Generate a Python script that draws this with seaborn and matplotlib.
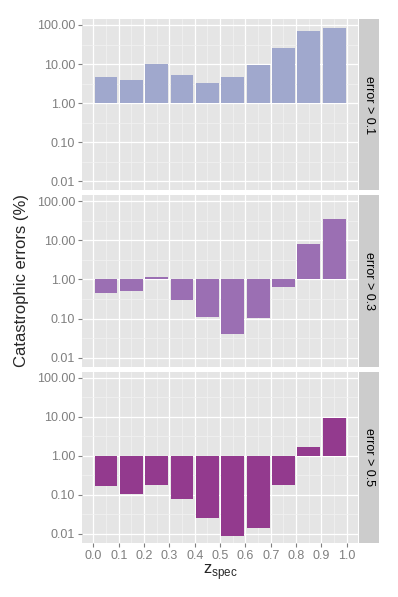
import matplotlib
matplotlib.use("Agg")
import matplotlib.pyplot as plt
from matplotlib.patches import Rectangle
from matplotlib.ticker import FixedLocator, NullFormatter
import seaborn as sns
import pandas as pd
import numpy as np

# bin centres of z_spec and % of catastrophic errors per bin
z_bins = [0.05, 0.15, 0.25, 0.35, 0.45, 0.55, 0.65, 0.75, 0.85, 0.95]
err_01 = [4.8, 4.0, 10.3, 5.1, 3.2, 4.6, 9.5, 25.0, 69.0, 85.0]
err_03 = [0.44, 0.50, 1.15, 0.29, 0.11, 0.041, 0.104, 0.66, 7.9, 34.5]
err_05 = [0.17, 0.108, 0.18, 0.079, 0.025, 0.0087, 0.0142, 0.18, 1.73, 9.3]
panels = ["error > 0.1", "error > 0.3", "error > 0.5"]
colors = ["#A0A8CD", "#9B6FB3", "#933A8E"]
y_ticks = [0.01, 0.1, 1, 10, 100]
x_ticks = [0.0, 0.1, 0.2, 0.3, 0.4, 0.5, 0.6, 0.7, 0.8, 0.9, 1.0]

df = pd.DataFrame({
    "z": z_bins * 3,
    "pct": err_01 + err_03 + err_05,
    "cut": np.repeat(panels, len(z_bins)),
})

sns.set_theme(style="darkgrid", rc={
    "axes.facecolor": "#E5E5E5",
    "grid.color": "white",
    "xtick.bottom": True,
    "ytick.left": True,
    "xtick.major.size": 3,
    "ytick.major.size": 3,
    "xtick.major.width": 0.8,
    "ytick.major.width": 0.8,
    "xtick.color": "#7F7F7F",
    "ytick.color": "#7F7F7F",
    "xtick.major.pad": 2,
    "ytick.major.pad": 2,
})
plt.rcParams["font.family"] = ["Liberation Sans", "DejaVu Sans"]


def bars_from_one(data, color=None, label=None, **kws):
    ax = plt.gca()
    ax.bar(data["z"], data["pct"] - 1, bottom=1, width=0.09,
           color=color, linewidth=0)


g = sns.FacetGrid(df, row="cut", row_order=panels, hue="cut",
                  hue_order=panels, palette=colors, sharex=True,
                  sharey=True, despine=False, height=2, aspect=1.5)
g.map_dataframe(bars_from_one)
g.set_titles("")
g.set_axis_labels("", "")
g.figure.set_size_inches(3.98, 5.97)
g.figure.subplots_adjust(left=0.206, right=0.9, top=0.968, bottom=0.0905,
                         hspace=0.03)

strip_w = 19.5 / 276
for i, (ax, name) in enumerate(zip(g.axes.flat, panels)):
    ax.set_yscale("log")
    ax.set_ylim(10 ** -2.23, 10 ** 2.15)
    ax.set_xlim(-0.045, 1.045)
    ax.yaxis.set_major_locator(FixedLocator(y_ticks))
    ax.set_yticklabels(["%.2f" % v for v in y_ticks], fontsize=9)
    ax.yaxis.set_minor_locator(FixedLocator([10 ** -1.5, 10 ** -0.5, 10 ** 0.5, 10 ** 1.5]))
    ax.yaxis.set_minor_formatter(NullFormatter())
    ax.xaxis.set_major_locator(FixedLocator(x_ticks))
    ax.xaxis.set_minor_locator(FixedLocator(z_bins))
    ax.tick_params(which="minor", length=0)
    if i < len(panels) - 1:
        ax.tick_params(axis="x", which="major", bottom=False)
    ax.grid(which="major", color="white", linewidth=0.9)
    ax.grid(which="minor", color="#F2F2F2", linewidth=0.5)
    ax.set_axisbelow(True)
    for s in ax.spines.values():
        s.set_visible(False)
    ax.add_patch(Rectangle((1.004, 0), strip_w, 1, transform=ax.transAxes,
                           clip_on=False, facecolor="#CCCCCC", linewidth=0))
    ax.text(1.004 + strip_w / 2, 0.5, name, transform=ax.transAxes,
            rotation=-90, ha="center", va="center", fontsize=9, color="black")

bottom_ax = g.axes.flat[-1]
bottom_ax.set_xticklabels(["%.1f" % v for v in x_ticks], fontsize=9)
bottom_ax.set_xlabel(r"z$_{\mathregular{spec}}$", fontsize=12, labelpad=0)
g.figure.text(0.053, 0.53, "Catastrophic errors (%)", rotation=90,
              ha="center", va="center", fontsize=12)

g.figure.savefig("out.png", dpi=100)
